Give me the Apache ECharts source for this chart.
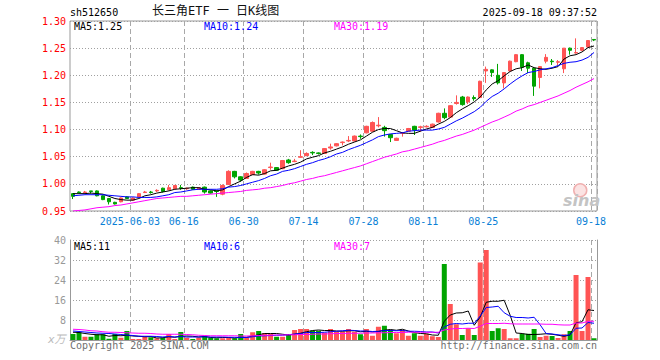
<!DOCTYPE html>
<html><head><meta charset="utf-8">
<script src="https://cdn.jsdelivr.net/npm/echarts@6/dist/echarts.min.js"></script>
<style>html,body{margin:0;padding:0;background:#fff}#c{width:660px;height:360px}</style>
</head><body><div id="c"></div>
<script>
const dates = ['2025-05-19','2025-05-20','2025-05-21','2025-05-22','2025-05-23','2025-05-26','2025-05-27','2025-05-28','2025-05-29','2025-05-30',
'2025-06-03','2025-06-04','2025-06-05','2025-06-06','2025-06-09','2025-06-10','2025-06-11','2025-06-12','2025-06-13','2025-06-16',
'2025-06-17','2025-06-18','2025-06-19','2025-06-20','2025-06-23','2025-06-24','2025-06-25','2025-06-26','2025-06-27','2025-06-30',
'2025-07-01','2025-07-02','2025-07-03','2025-07-04','2025-07-07','2025-07-08','2025-07-09','2025-07-10','2025-07-11','2025-07-14',
'2025-07-15','2025-07-16','2025-07-17','2025-07-18','2025-07-21','2025-07-22','2025-07-23','2025-07-24','2025-07-25','2025-07-28',
'2025-07-29','2025-07-30','2025-07-31','2025-08-01','2025-08-04','2025-08-05','2025-08-06','2025-08-07','2025-08-08','2025-08-11',
'2025-08-12','2025-08-13','2025-08-14','2025-08-15','2025-08-18','2025-08-19','2025-08-20','2025-08-21','2025-08-22','2025-08-25',
'2025-08-26','2025-08-27','2025-08-28','2025-08-29','2025-09-01','2025-09-02','2025-09-03','2025-09-04','2025-09-05','2025-09-08',
'2025-09-09','2025-09-10','2025-09-11','2025-09-12','2025-09-15','2025-09-16','2025-09-17','2025-09-18'];

const tickDates  = ['2025-06-03','2025-06-16','2025-06-30','2025-07-14','2025-07-28','2025-08-11','2025-08-25','2025-09-18'];
const tickLabels = ['2025-06-03','06-16','06-30','07-14','07-28','08-11','08-25','09-18'];

const opens = [0.982,0.985,0.984,0.987,0.987,0.978,0.973,0.966,0.967,0.976,
0.970,0.976,0.984,0.985,0.987,0.992,0.989,0.991,0.993,0.991,
0.994,0.990,0.994,0.987,0.987,0.981,0.999,1.023,1.013,1.010,
1.017,1.023,1.018,1.030,1.030,1.028,1.044,1.041,1.049,1.052,
1.058,1.057,1.056,1.066,1.070,1.076,1.079,1.079,1.088,1.094,
1.097,1.107,1.104,1.091,1.080,1.093,1.097,1.106,1.104,1.105,
1.104,1.114,1.130,1.123,1.148,1.160,1.151,1.159,1.159,1.208,
1.210,1.200,1.186,1.208,1.225,1.238,1.223,1.213,1.196,1.226,
1.226,1.224,1.212,1.250,1.241,1.246,1.252,1.266];
const closes = [0.977,0.984,0.985,0.986,0.978,0.971,0.967,0.963,0.974,0.973,
0.974,0.982,0.985,0.984,0.988,0.986,0.993,0.997,0.992,0.992,
0.990,0.993,0.985,0.983,0.986,0.997,1.023,1.013,1.007,1.019,
1.023,1.020,1.026,1.031,1.025,1.043,1.039,1.042,1.050,1.056,
1.057,1.056,1.065,1.068,1.074,1.077,1.080,1.088,1.087,1.106,
1.113,1.108,1.098,1.085,1.084,1.094,1.102,1.099,1.105,1.106,
1.110,1.130,1.122,1.144,1.150,1.146,1.160,1.157,1.189,1.211,
1.205,1.186,1.205,1.226,1.238,1.215,1.213,1.180,1.216,1.233,
1.225,1.225,1.250,1.246,1.242,1.251,1.264,1.265];
const highs = [0.983,0.986,0.987,0.987,0.988,0.979,0.974,0.967,0.975,0.977,
0.975,0.983,0.987,0.987,0.990,0.993,0.998,0.998,0.998,0.993,
0.995,0.994,0.995,0.988,0.988,0.999,1.025,1.024,1.014,1.021,
1.024,1.024,1.027,1.039,1.031,1.044,1.046,1.046,1.062,1.058,
1.060,1.058,1.066,1.074,1.075,1.078,1.088,1.089,1.091,1.107,
1.115,1.123,1.107,1.092,1.085,1.095,1.103,1.107,1.107,1.108,
1.111,1.131,1.139,1.145,1.163,1.162,1.161,1.163,1.190,1.216,
1.211,1.221,1.206,1.227,1.239,1.239,1.225,1.214,1.217,1.239,
1.230,1.228,1.250,1.251,1.268,1.252,1.265,1.266];
const lows = [0.972,0.983,0.983,0.982,0.977,0.970,0.962,0.962,0.966,0.972,
0.969,0.975,0.983,0.982,0.985,0.984,0.988,0.990,0.989,0.989,
0.989,0.989,0.982,0.982,0.976,0.979,0.998,1.010,1.004,1.009,
1.016,1.017,1.017,1.026,1.024,1.027,1.037,1.040,1.048,1.051,
1.053,1.054,1.055,1.063,1.069,1.071,1.077,1.078,1.083,1.093,
1.096,1.104,1.087,1.077,1.079,1.087,1.096,1.090,1.096,1.104,
1.103,1.113,1.119,1.122,1.146,1.144,1.147,1.153,1.158,1.186,
1.197,1.183,1.176,1.207,1.224,1.208,1.204,1.162,1.176,1.222,
1.219,1.219,1.204,1.238,1.240,1.245,1.251,1.263];

const ma5 = [0.982,0.982,0.982,0.983,0.982,0.981,0.977,0.973,0.971,0.970,
0.970,0.973,0.978,0.980,0.983,0.985,0.987,0.990,0.991,0.992,
0.993,0.993,0.990,0.989,0.987,0.989,0.995,1.000,1.005,1.012,
1.017,1.016,1.019,1.024,1.025,1.029,1.033,1.036,1.040,1.046,
1.049,1.052,1.057,1.060,1.064,1.068,1.073,1.077,1.081,1.088,
1.095,1.100,1.102,1.102,1.098,1.094,1.093,1.093,1.097,1.101,
1.104,1.110,1.115,1.122,1.131,1.138,1.144,1.151,1.160,1.173,
1.184,1.190,1.199,1.207,1.212,1.214,1.219,1.214,1.212,1.211,
1.213,1.216,1.230,1.236,1.238,1.243,1.251,1.254];
const ma10 = [0.978,0.979,0.980,0.980,0.980,0.980,0.979,0.978,0.977,0.976,
0.976,0.975,0.975,0.975,0.976,0.978,0.980,0.984,0.985,0.987,
0.989,0.990,0.990,0.990,0.990,0.991,0.994,0.995,0.997,1.000,
1.003,1.006,1.010,1.015,1.018,1.023,1.025,1.028,1.032,1.036,
1.039,1.043,1.046,1.050,1.055,1.058,1.063,1.067,1.071,1.076,
1.081,1.087,1.090,1.092,1.093,1.094,1.097,1.098,1.099,1.099,
1.099,1.101,1.104,1.110,1.116,1.121,1.127,1.133,1.141,1.152,
1.161,1.167,1.175,1.184,1.192,1.199,1.205,1.207,1.210,1.212,
1.214,1.218,1.222,1.224,1.225,1.228,1.233,1.242];
const ma30 = [0.950,0.951,0.952,0.954,0.956,0.957,0.958,0.960,0.961,0.963,
0.965,0.967,0.969,0.971,0.973,0.974,0.975,0.976,0.977,0.977,
0.978,0.979,0.980,0.981,0.982,0.983,0.984,0.985,0.986,0.988,
0.989,0.990,0.992,0.993,0.995,0.997,1.000,1.002,1.005,1.008,
1.010,1.013,1.015,1.018,1.021,1.024,1.027,1.030,1.033,1.037,
1.041,1.045,1.049,1.052,1.055,1.059,1.061,1.064,1.067,1.070,
1.073,1.077,1.080,1.084,1.088,1.091,1.095,1.099,1.104,1.109,
1.114,1.118,1.123,1.128,1.134,1.138,1.143,1.146,1.150,1.154,
1.158,1.162,1.167,1.172,1.178,1.183,1.188,1.194];

const volumes = [2.4,3.1,1.3,1.3,2.3,2.3,0.5,2.4,0.9,3.6,
0.4,0.4,1.3,1.1,0.7,0.9,2.4,0.4,3.2,0.9,
0.4,0.9,1.7,0.9,0.7,0.7,0.9,0.7,2.4,0.9,
3.1,3.6,2.8,2.4,1.3,1.3,2.4,4.0,4.4,4.4,
3.7,3.7,2.9,4.4,3.3,3.3,4.4,3.3,2.3,4.4,
1.7,5.3,5.7,4.0,2.7,4.0,1.7,2.7,1.7,2.5,
1.5,1.2,30.4,14.4,6.3,2.0,4.7,2.0,31.0,36.0,
3.6,4.7,4.4,0.7,0.7,2.5,2.5,4.4,1.2,1.7,
1.6,0.8,2.3,3.6,26.0,3.6,25.2,0.7];
const volMa5 = [3.1,3.0,2.6,2.3,2.1,2.1,1.5,1.8,1.7,1.9,
1.6,1.5,1.3,1.4,0.8,0.9,1.3,1.1,1.5,1.6,
1.5,1.2,1.4,1.0,0.9,1.0,1.0,0.8,1.1,1.1,
1.6,2.1,2.6,2.6,2.6,2.3,2.0,2.3,2.7,3.3,
3.8,4.0,3.8,3.8,3.6,3.5,3.7,3.7,3.3,3.5,
3.2,3.4,3.9,4.2,3.9,4.3,3.6,3.0,2.6,2.5,
2.0,1.9,7.5,10.0,10.8,10.9,11.6,5.9,9.2,15.1,
15.5,15.5,15.9,9.9,2.8,2.6,2.2,2.2,2.3,2.5,
2.3,1.9,1.5,2.0,6.9,7.3,12.1,11.8];
const volMa10 = [3.6,3.4,3.2,3.0,2.8,2.7,2.6,2.4,2.2,2.0,
1.8,1.5,1.5,1.5,1.4,1.2,1.4,1.2,1.4,1.2,
1.2,1.2,1.3,1.2,1.2,1.2,1.1,1.1,1.0,1.0,
1.3,1.6,1.7,1.8,1.9,1.9,2.1,2.4,2.6,3.0,
3.0,3.0,3.1,3.3,3.5,3.7,3.9,3.8,3.6,3.6,
3.4,3.5,3.8,3.8,3.7,3.8,3.5,3.5,3.4,3.2,
3.2,2.8,5.2,6.3,6.6,6.4,6.7,6.7,9.6,13.0,
13.2,13.5,10.9,9.5,9.0,9.0,8.8,9.1,6.1,2.6,
2.4,2.1,1.8,2.1,4.7,4.8,7.0,6.7];
const volMa30 = [4.3,4.2,4.0,3.7,3.6,3.3,3.1,3.1,3.0,2.9,
2.8,2.7,2.7,2.6,2.4,2.3,2.3,2.3,2.3,2.2,
2.1,1.9,1.8,1.7,1.7,1.7,1.7,1.7,1.6,1.6,
1.7,1.8,1.9,1.9,2.0,2.0,2.1,2.1,2.2,2.2,
2.3,2.4,2.4,2.5,2.6,2.6,2.7,2.7,2.7,2.8,
2.8,2.9,2.9,3.0,3.0,3.0,3.1,3.1,3.1,3.1,
3.1,3.1,4.0,4.4,4.6,4.6,4.7,4.6,5.5,6.6,
6.6,6.6,6.7,6.5,6.4,6.4,6.4,6.4,6.4,6.3,
6.3,6.1,6.0,6.0,6.8,6.8,7.5,7.5];

const RED = '#ff5454', GREEN = '#00a400';
const MONO = '"DejaVu Sans Mono", monospace';
const last = dates.length - 1;

const chart = echarts.init(document.getElementById('c'), null, {renderer: 'svg'});
const isTick = (idx, val) => tickDates.indexOf(val) >= 0;
const vDash = () => ({show: true, interval: isTick, lineStyle: {color: '#a8a8a8', width: 1, type: [5, 3]}});
const hDot = () => ({show: true, lineStyle: {color: '#a0a0a0', width: 1, type: [1, 2]}});

function txt(left, top, text, fill, font, extra) {
  return Object.assign({type: 'text', left: left, top: top, silent: true, z: 100,
    style: {text: text, fill: fill, font: font || ('10px ' + MONO)}}, extra || {});
}

const option = {
  animation: false,
  backgroundColor: '#fff',
  grid: [
    {left: 70, top: 21, width: 527, height: 190, show: true, borderColor: '#999', borderWidth: 1, backgroundColor: 'rgba(0,0,0,0)'},
    {left: 70, top: 240, width: 527, height: 100}
  ],
  xAxis: [
    {type: 'category', gridIndex: 0, data: dates, boundaryGap: true,
     axisLine: {show: false}, axisTick: {show: false, interval: isTick},
     axisLabel: {show: true, interval: isTick, color: '#0a7fd6', fontFamily: MONO, fontSize: 10, margin: 5,
       padding: [0, 6, 0, 0],
       formatter: v => tickLabels[tickDates.indexOf(v)]},
     splitLine: vDash()},
    {type: 'category', gridIndex: 1, data: dates, boundaryGap: true, position: 'top',
     axisLine: {show: true, lineStyle: {color: '#999', width: 1}}, axisTick: {show: false, interval: isTick},
     axisLabel: {show: false, interval: isTick}, splitLine: vDash()}
  ],
  yAxis: [
    {type: 'value', gridIndex: 0, min: 0.95, max: 1.30, interval: 0.05,
     axisLine: {show: false}, axisTick: {show: false},
     axisLabel: {color: '#ff0000', fontFamily: MONO, fontSize: 10, margin: 4, formatter: v => v.toFixed(2)},
     splitLine: hDot()},
    {type: 'value', gridIndex: 1, min: 0, max: 40, interval: 8,
     axisLine: {show: true, lineStyle: {color: '#999', width: 1}}, axisTick: {show: false},
     axisLabel: {color: '#999', fontFamily: MONO, fontSize: 10, margin: 4, formatter: v => v === 0 ? '' : String(v)},
     splitLine: hDot()},
    {type: 'value', gridIndex: 1, min: 0, max: 40, interval: 8, position: 'right',
     axisLine: {show: true, lineStyle: {color: '#999', width: 1}}, axisTick: {show: false},
     axisLabel: {show: false}, splitLine: {show: false}}
  ],
  series: [
    {type: 'candlestick', xAxisIndex: 0, yAxisIndex: 0, barWidth: 4,
     data: dates.map((d, i) => [opens[i], closes[i], lows[i], highs[i]]),
     itemStyle: {color: RED, color0: GREEN, borderColor: RED, borderColor0: GREEN, borderWidth: 1},
     emphasis: {disabled: true}, z: 2},
    {type: 'line', xAxisIndex: 0, yAxisIndex: 0, data: ma5, showSymbol: false, symbol: 'none',
     lineStyle: {color: '#000', width: 1}, emphasis: {disabled: true}, z: 3},
    {type: 'line', xAxisIndex: 0, yAxisIndex: 0, data: ma10, showSymbol: false, symbol: 'none',
     lineStyle: {color: '#0000ff', width: 1}, emphasis: {disabled: true}, z: 3},
    {type: 'line', xAxisIndex: 0, yAxisIndex: 0, data: ma30, showSymbol: false, symbol: 'none',
     lineStyle: {color: '#ff00ff', width: 1}, emphasis: {disabled: true}, z: 3},
    {type: 'bar', xAxisIndex: 1, yAxisIndex: 1, barWidth: 5,
     data: volumes.map((v, i) => ({value: v, itemStyle: {color: closes[i] >= opens[i] ? RED : GREEN}})),
     emphasis: {disabled: true}, z: 2},
    {type: 'line', xAxisIndex: 1, yAxisIndex: 1, data: volMa5, showSymbol: false, symbol: 'none',
     lineStyle: {color: '#000', width: 1}, emphasis: {disabled: true}, z: 3},
    {type: 'line', xAxisIndex: 1, yAxisIndex: 1, data: volMa10, showSymbol: false, symbol: 'none',
     lineStyle: {color: '#0000ff', width: 1}, emphasis: {disabled: true}, z: 3},
    {type: 'line', xAxisIndex: 1, yAxisIndex: 1, data: volMa30, showSymbol: false, symbol: 'none',
     lineStyle: {color: '#ff00ff', width: 1}, emphasis: {disabled: true}, z: 3}
  ],
  graphic: [
    txt(70, 7, 'sh512650', '#000'),
    txt(152, 5, '长三角ETF 一 日K线图', '#111', '12px "DejaVu Sans Mono", "Noto Sans CJK SC"'),
    {type: 'text', right: 63, top: 7, silent: true, z: 100,
     style: {text: '2025-09-18 09:37:52', fill: '#000', font: '10px ' + MONO}},
    txt(74, 21, 'MA5:' + ma5[last].toFixed(2), '#000'),
    txt(204, 21, 'MA10:' + ma10[last].toFixed(2), '#0000ff'),
    txt(334, 21, 'MA30:' + ma30[last].toFixed(2), '#ff00ff'),
    txt(74, 241, 'MA5:' + Math.floor(volMa5[last]), '#000'),
    txt(204, 241, 'MA10:' + Math.floor(volMa10[last]), '#0000ff'),
    txt(334, 241, 'MA30:' + Math.floor(volMa30[last]), '#ff00ff'),
    txt(48, 334, 'x万', '#bbb', 'italic 11px "DejaVu Sans", "Noto Sans CJK SC"'),
    txt(70, 340, 'Copyright 2025 SINA.COM', '#707070'),
    {type: 'text', right: 63, top: 340, silent: true, z: 100,
     style: {text: 'http://finance.sina.com.cn', fill: '#707070', font: '10px ' + MONO}},
    {type: 'circle', left: 573, top: 183, silent: true, z: 1,
     shape: {r: 6.5}, style: {fill: '#fbe3e3', stroke: '#f0b0b0', lineWidth: 1.5}},
    txt(563, 192, 'sina', '#c4c4c4', 'italic bold 16px "DejaVu Sans", sans-serif', {z: 1})
  ]
};
chart.setOption(option);
</script>
</body></html>
